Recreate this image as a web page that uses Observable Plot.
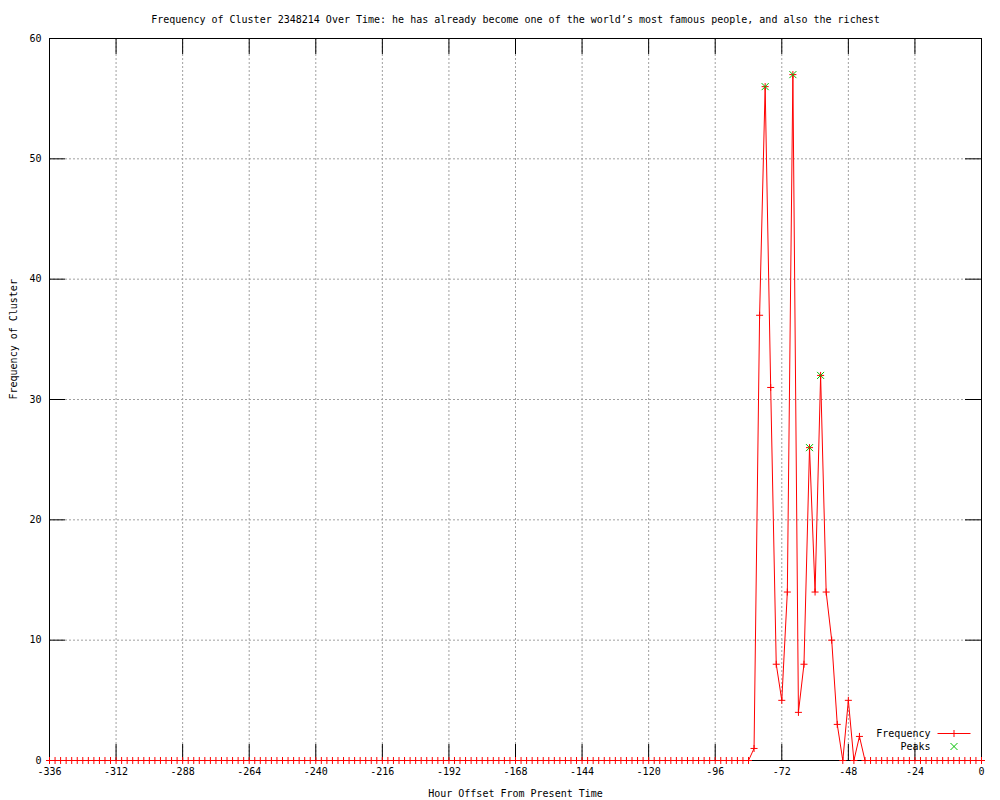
<!DOCTYPE html>
<html>
<head>
<meta charset="utf-8">
<script src="https://cdn.jsdelivr.net/npm/d3@7"></script>
<script src="https://cdn.jsdelivr.net/npm/@observablehq/plot@0.6"></script>
<style>
  html, body { margin: 0; padding: 0; background: #ffffff; }
  #chart svg { display: block; }
</style>
</head>
<body>
<div id="chart"></div>
<script>
// ---------- data ----------
const title = "Frequency of Cluster 2348214 Over Time: he has already become one of the world\u2019s most famous people, and also the richest";
const xLabel = "Hour Offset From Present Time";
const yLabel = "Frequency of Cluster";
const seriesNames = ["Frequency", "Peaks"];

const hours = [
  -336,-334,-332,-330,-328,-326,-324,-322,-320,-318,-316,-314,
  -312,-310,-308,-306,-304,-302,-300,-298,-296,-294,-292,-290,
  -288,-286,-284,-282,-280,-278,-276,-274,-272,-270,-268,-266,
  -264,-262,-260,-258,-256,-254,-252,-250,-248,-246,-244,-242,
  -240,-238,-236,-234,-232,-230,-228,-226,-224,-222,-220,-218,
  -216,-214,-212,-210,-208,-206,-204,-202,-200,-198,-196,-194,
  -192,-190,-188,-186,-184,-182,-180,-178,-176,-174,-172,-170,
  -168,-166,-164,-162,-160,-158,-156,-154,-152,-150,-148,-146,
  -144,-142,-140,-138,-136,-134,-132,-130,-128,-126,-124,-122,
  -120,-118,-116,-114,-112,-110,-108,-106,-104,-102,-100,-98,
  -96,-94,-92,-90,-88,-86,-84,-82,-80,-78,-76,-74,
  -72,-70,-68,-66,-64,-62,-60,-58,-56,-54,-52,-50,
  -48,-46,-44,-42,-40,-38,-36,-34,-32,-30,-28,-26,
  -24,-22,-20,-18,-16,-14,-12,-10,-8,-6,-4,-2,
  0
];
const counts = [
  0,0,0,0,0,0,0,0,0,0,0,0,
  0,0,0,0,0,0,0,0,0,0,0,0,
  0,0,0,0,0,0,0,0,0,0,0,0,
  0,0,0,0,0,0,0,0,0,0,0,0,
  0,0,0,0,0,0,0,0,0,0,0,0,
  0,0,0,0,0,0,0,0,0,0,0,0,
  0,0,0,0,0,0,0,0,0,0,0,0,
  0,0,0,0,0,0,0,0,0,0,0,0,
  0,0,0,0,0,0,0,0,0,0,0,0,
  0,0,0,0,0,0,0,0,0,0,0,0,
  0,0,0,0,0,0,0,1,37,56,31,8,
  5,14,57,4,8,26,14,32,14,10,3,0,
  5,0,2,0,0,0,0,0,0,0,0,0,
  0,0,0,0,0,0,0,0,0,0,0,0,
  0
];
const peakHours = [-78, -68, -62, -58];
const peakCounts = [56, 57, 26, 32];

const xTicks = [-336,-312,-288,-264,-240,-216,-192,-168,-144,-120,-96,-72,-48,-24,0];
const yTicks = [0,10,20,30,40,50,60];

// ---------- layout / style ----------
const W = 1000, H = 800;
const mL = 49, mR = 19, mT = 38, mB = 40;
const innerW = W - mL - mR, innerH = H - mT - mB;
const TICK = 16;
const FONT = "'DejaVu Sans Mono', 'Liberation Mono', monospace";
const RED = "#ff0000", GREEN = "#00c000", GRID = "#a0a0a0";

const freq = hours.map((h, i) => ({hour: h, count: counts[i]}));
const peaks = peakHours.map((h, i) => ({hour: h, count: peakCounts[i]}));
const gridXTicks = xTicks.slice(1, -1);
const gridYTicks = yTicks.slice(1, -1);

// legend sample symbols (pixel shapes, not data)
const lineSample = {
  draw(context) {
    context.moveTo(-16.5, 0); context.lineTo(16.5, 0);
    context.moveTo(0, -3.5); context.lineTo(0, 3.5);
  }
};
const timesSample = {
  draw(context) {
    context.moveTo(-3.5, -3.5); context.lineTo(3.5, 3.5);
    context.moveTo(-3.5, 3.5); context.lineTo(3.5, -3.5);
  }
};

const chart = Plot.plot({
  width: W,
  height: H,
  marginLeft: mL,
  marginRight: mR,
  marginTop: mT,
  marginBottom: mB,
  x: {domain: [-336, 0]},
  y: {domain: [0, 60]},
  style: {fontFamily: FONT, fontSize: "10px", color: "black", background: "white", overflow: "visible"},
  marks: [
    Plot.gridX(gridXTicks, {stroke: GRID, strokeOpacity: 1, strokeDasharray: "2,2"}),
    Plot.gridY(gridYTicks, {stroke: GRID, strokeOpacity: 1, strokeDasharray: "2,2"}),
    Plot.line(freq, {x: "hour", y: "count", stroke: RED, strokeWidth: 1}),
    Plot.frame({stroke: "black"}),
    Plot.tickX(xTicks, {x: d => d, stroke: "black", insetTop: innerH - TICK}),
    Plot.tickX(xTicks, {x: d => d, stroke: "black", insetBottom: innerH - TICK}),
    Plot.tickY(yTicks, {y: d => d, stroke: "black", insetRight: innerW - TICK}),
    Plot.tickY(yTicks, {y: d => d, stroke: "black", insetLeft: innerW - TICK}),
    Plot.dot(freq, {x: "hour", y: "count", symbol: "plus", r: 2.4, stroke: RED, strokeWidth: 1}),
    Plot.dot(peaks, {x: "hour", y: "count", symbol: "times", r: 3.3, stroke: GREEN, strokeWidth: 1}),
    Plot.axisX({ticks: xTicks, tickSize: 0, tickPadding: 7, label: null, tickFormat: d => String(d), fontSize: 10}),
    Plot.axisY({ticks: yTicks, tickSize: 0, tickPadding: 8, label: null, tickFormat: d => String(d), fontSize: 10}),
    Plot.text([title], {frameAnchor: "top", lineAnchor: "middle", dy: -19, text: d => d, fontSize: 10, fill: "black"}),
    Plot.text([xLabel], {frameAnchor: "bottom", lineAnchor: "middle", dy: 33, text: d => d, fontSize: 10, fill: "black"}),
    Plot.text([yLabel], {frameAnchor: "left", dx: -36, rotate: -90, text: d => d, fontSize: 10, fill: "black"}),
    // legend
    Plot.text([seriesNames[0]], {frameAnchor: "bottom-right", lineAnchor: "middle", dx: -51, dy: -27, textAnchor: "end", text: d => d, fontSize: 10, fill: "black"}),
    Plot.text([seriesNames[1]], {frameAnchor: "bottom-right", lineAnchor: "middle", dx: -51, dy: -14, textAnchor: "end", text: d => d, fontSize: 10, fill: "black"}),
    Plot.dot([seriesNames[0]], {frameAnchor: "bottom-right", dx: -27.5, dy: -27, symbol: lineSample, r: 3, stroke: RED, strokeWidth: 1, fill: "none"}),
    Plot.dot([seriesNames[1]], {frameAnchor: "bottom-right", dx: -27.5, dy: -14, symbol: timesSample, r: 3, stroke: GREEN, strokeWidth: 1, fill: "none"})
  ]
});

document.getElementById("chart").appendChild(chart);
</script>
</body>
</html>
